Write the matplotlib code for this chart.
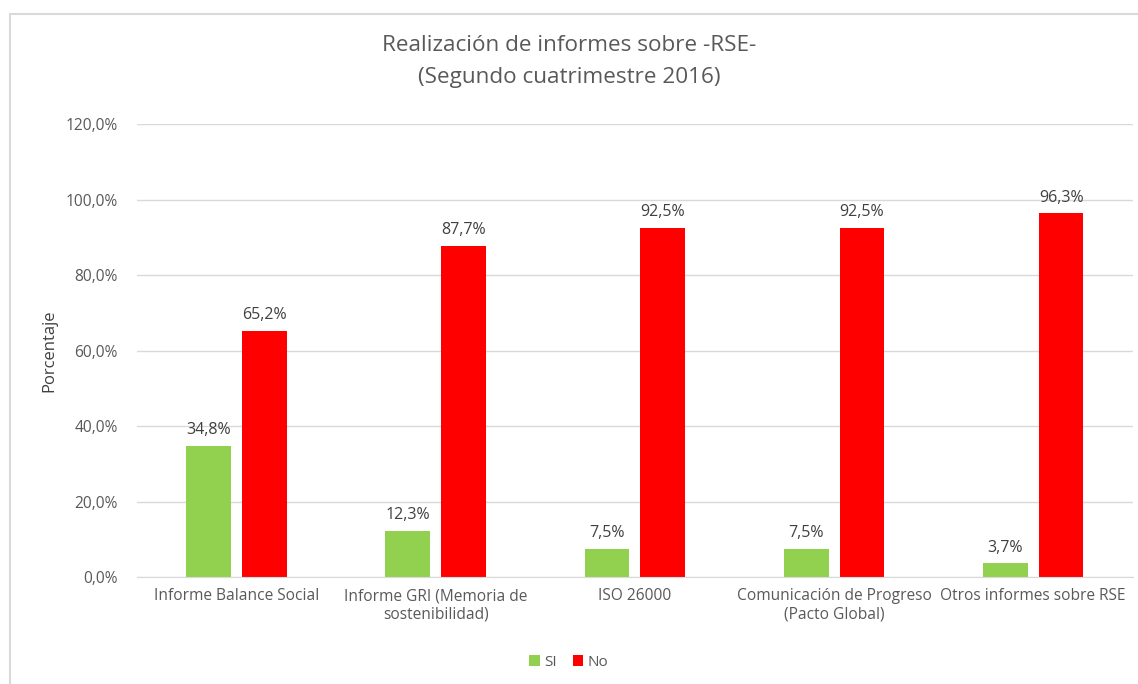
import matplotlib.pyplot as plt
import matplotlib.patches as mpatches
import numpy as np

plt.rcParams['font.family'] = ['Open Sans', 'DejaVu Sans']

categories = ["Informe Balance Social", "Informe GRI (Memoria de\nsostenibilidad)",
              "ISO 26000", "Comunicación de Progreso\n(Pacto Global)", "Otros informes sobre RSE"]
si = [34.8, 12.3, 7.5, 7.5, 3.7]
no = [65.2, 87.7, 92.5, 92.5, 96.3]
yticks = [0, 20, 40, 60, 80, 100, 120]

green = '#92d050'
red = '#ff0000'
grey = '#595959'

fig = plt.figure(figsize=(11.38, 6.84), dpi=100)
ax = fig.add_axes([0.1204, 0.1564, 0.875, 0.6623])

# chart border like Excel
fig.patches.append(mpatches.Rectangle((10 / 1138, -0.1), 1.2, 1.1 - 14 / 684,
                                      transform=fig.transFigure, fill=False,
                                      edgecolor='#d9d9d9', linewidth=1.5))

x = np.arange(len(categories))
w = 0.225
b1 = ax.bar(x - 0.14, si, w, color=green, label='SI')
b2 = ax.bar(x + 0.14, no, w, color=red, label='No')

for bars, vals in [(b1, si), (b2, no)]:
    for b, v in zip(bars, vals):
        ax.text(b.get_x() + b.get_width() / 2, v + 2.0, f"{v:.1f}%".replace('.', ','),
                ha='center', va='bottom', fontsize=11.5, color='#404040')

ax.set_xlim(-0.5, len(categories) - 0.5)
ax.set_ylim(0, 120)
ax.set_yticks(yticks)
ax.set_yticklabels([f"{t:.1f}%".replace('.', ',') for t in yticks])
ax.set_xticks(x)
ax.set_xticklabels(categories)
ax.tick_params(axis='both', length=0, colors=grey, labelsize=11.2)
ax.tick_params(axis='y', pad=14)
ax.tick_params(axis='x', pad=8)
ax.grid(axis='y', color='#d9d9d9', linewidth=1)
ax.set_axisbelow(True)
for s in ['top', 'right', 'left']:
    ax.spines[s].set_visible(False)
ax.spines['bottom'].set_color('#d9d9d9')

ax.set_ylabel('Porcentaje', color='#404040', fontsize=12, labelpad=6)

fig.text(0.5, 0.91, 'Realización de informes sobre -RSE-\n(Segundo cuatrimestre 2016)',
         ha='center', va='center', fontsize=16.2, color=grey, linespacing=1.7)

fig.legend(handles=[b1, b2], loc='center', bbox_to_anchor=(0.5, 0.032), ncol=2,
           frameon=False, fontsize=11, labelcolor=grey, handlelength=0.7,
           handleheight=0.7, handletextpad=0.3, columnspacing=1.0)

fig.savefig('out.png', dpi=100)
